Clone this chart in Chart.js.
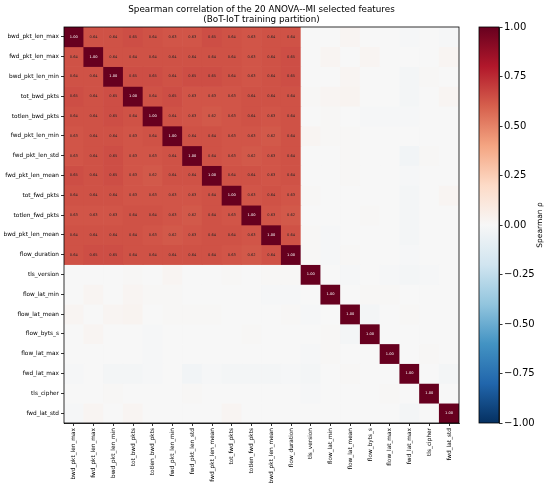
<!DOCTYPE html>
<html>
<head>
<meta charset="utf-8">
<script src="https://cdn.jsdelivr.net/npm/chart.js@4.4.0/dist/chart.umd.min.js"></script>
<style>
  html, body { margin: 0; padding: 0; background: #fff; }
  #wrap { position: relative; width: 550px; height: 489px; }
  #main { position: absolute; left: 0; top: 0; width: 522px; height: 489px; }
  #cbar { position: absolute; left: 440px; top: 0; width: 110px; height: 489px; }
</style>
</head>
<body>
<div id="wrap">
  <div id="main"><canvas id="heat"></canvas></div>
  <div id="cbar"><canvas id="bar"></canvas></div>
</div>
<script>
const features = [
  'bwd_pkt_len_max', 'fwd_pkt_len_max', 'bwd_pkt_len_min', 'tot_bwd_pkts', 'totlen_bwd_pkts',
  'fwd_pkt_len_min', 'fwd_pkt_len_std', 'fwd_pkt_len_mean', 'tot_fwd_pkts', 'totlen_fwd_pkts',
  'bwd_pkt_len_mean', 'flow_duration', 'tls_version', 'flow_lat_min', 'flow_lat_mean',
  'flow_byts_s', 'flow_lat_max', 'fwd_lat_max', 'tls_cipher', 'fwd_lat_std'
];

// Spearman rho, one row per feature (same order as features)
const corr = [
  [1.00, 0.64, 0.64, 0.65, 0.64, 0.63, 0.63, 0.65, 0.64, 0.63, 0.64, 0.64,  0.00, 0.00, 0.02, 0.00, 0.00, -0.01, 0.00, -0.01],
  [0.64, 1.00, 0.64, 0.64, 0.64, 0.64, 0.64, 0.64, 0.64, 0.63, 0.64, 0.65,  0.00, 0.02, 0.00, 0.02, 0.00, 0.00, 0.00, 0.02],
  [0.64, 0.64, 1.00, 0.65, 0.65, 0.64, 0.65, 0.65, 0.64, 0.63, 0.64, 0.65,  0.00, 0.00, 0.02, 0.00, 0.00, -0.02, 0.01, 0.00],
  [0.65, 0.64, 0.65, 1.00, 0.64, 0.65, 0.63, 0.63, 0.63, 0.64, 0.64, 0.64,  0.01, 0.02, 0.03, 0.00, 0.00, -0.02, 0.00, 0.02],
  [0.64, 0.64, 0.65, 0.64, 1.00, 0.64, 0.63, 0.62, 0.63, 0.64, 0.63, 0.64,  0.00, 0.01, 0.00, -0.01, -0.01, -0.01, 0.00, 0.00],
  [0.63, 0.64, 0.64, 0.63, 0.64, 1.00, 0.64, 0.64, 0.63, 0.63, 0.62, 0.64,  0.02, 0.01, 0.01, 0.00, 0.00, 0.00, 0.00, 0.00],
  [0.63, 0.64, 0.65, 0.63, 0.63, 0.64, 1.00, 0.64, 0.63, 0.62, 0.63, 0.64,  0.00, 0.00, 0.01, 0.00, 0.00, -0.03, 0.01, 0.00],
  [0.65, 0.64, 0.65, 0.63, 0.62, 0.64, 0.64, 1.00, 0.64, 0.64, 0.63, 0.64,  0.00, 0.00, 0.01, 0.00, 0.00, -0.01, 0.00, 0.00],
  [0.64, 0.64, 0.64, 0.63, 0.63, 0.63, 0.63, 0.64, 1.00, 0.63, 0.64, 0.63,  0.01, 0.00, 0.00, 0.00, 0.00, -0.02, 0.00, 0.02],
  [0.63, 0.63, 0.63, 0.64, 0.64, 0.63, 0.62, 0.64, 0.63, 1.00, 0.63, 0.62,  0.00, 0.00, 0.00, 0.01, 0.00, -0.02, 0.00, 0.00],
  [0.64, 0.64, 0.64, 0.64, 0.63, 0.62, 0.63, 0.64, 0.64, 0.63, 1.00, 0.64,  0.01, -0.01, 0.00, 0.00, 0.00, -0.02, 0.00, 0.00],
  [0.64, 0.65, 0.65, 0.64, 0.64, 0.64, 0.64, 0.64, 0.63, 0.62, 0.64, 1.00,  0.01, -0.01, 0.01, 0.00, 0.00, -0.01, 0.00, 0.00],
  [0.00, 0.00, 0.00, 0.01, 0.00, 0.02, 0.00, 0.00, 0.01, 0.00, 0.01, 0.01,  1.00, 0.00, -0.01, 0.00, -0.01, -0.02, -0.01, 0.00],
  [0.00, 0.02, 0.00, 0.02, 0.01, 0.01, 0.00, 0.00, 0.00, 0.00, -0.01, -0.01, 0.00, 1.00, 0.00, 0.01, 0.01, 0.00, 0.00, 0.00],
  [0.02, 0.00, 0.02, 0.03, 0.00, 0.01, 0.01, 0.01, 0.00, 0.00, 0.00, 0.01,  -0.01, 0.00, 1.00, -0.02, 0.00, 0.01, 0.00, 0.00],
  [0.00, 0.02, 0.00, 0.00, -0.01, 0.00, 0.00, 0.00, 0.00, 0.01, 0.00, 0.00, 0.00, 0.01, -0.02, 1.00, 0.00, 0.00, 0.00, 0.00],
  [0.00, 0.00, 0.00, 0.00, -0.01, 0.00, 0.00, 0.00, 0.00, 0.00, 0.00, 0.00, -0.01, 0.01, 0.00, 0.00, 1.00, 0.00, 0.01, 0.00],
  [-0.01, 0.00, -0.02, -0.02, -0.01, 0.00, -0.03, -0.01, -0.02, -0.02, -0.02, -0.01, -0.02, 0.00, 0.01, 0.00, 0.00, 1.00, 0.00, -0.02],
  [0.00, 0.00, 0.01, 0.00, 0.00, 0.00, 0.01, 0.00, 0.00, 0.00, 0.00, 0.00, -0.01, 0.00, 0.00, 0.00, 0.01, 0.00, 1.00, 0.00],
  [-0.01, 0.02, 0.00, 0.02, 0.00, 0.00, 0.00, 0.00, 0.02, 0.00, 0.00, 0.00, 0.00, 0.00, 0.00, 0.00, 0.00, -0.02, 0.00, 1.00]
];

const cbarTicks = [-1, -0.75, -0.5, -0.25, 0, 0.25, 0.5, 0.75, 1];

// RdBu_r colormap
const rdbuStops = ['#053061', '#2166ac', '#4393c3', '#92c5de', '#d1e5f0', '#f7f7f7',
                   '#fddbc7', '#f4a582', '#d6604d', '#b2182b', '#67001f'];
const hex = h => [1, 3, 5].map(i => parseInt(h.substr(i, 2), 16));
function rdbu(v) {
  const t = Math.max(0, Math.min(1, (v + 1) / 2)) * 10;
  const i = Math.min(9, Math.floor(t));
  const f = t - i;
  const a = hex(rdbuStops[i]), b = hex(rdbuStops[i + 1]);
  const c = a.map((x, k) => Math.round(x + (b[k] - x) * f));
  return `rgb(${c[0]},${c[1]},${c[2]})`;
}

const FONT = '"DejaVu Sans", sans-serif';

// one floating-bar dataset per row, all overlapping on the category axis
const datasets = features.map((name, r) => ({
  label: name,
  data: corr[r].map(() => [r, r + 1]),
  backgroundColor: corr[r].map(v => rdbu(v)),
  borderWidth: 0,
  barPercentage: 1,
  categoryPercentage: 1,
  grouped: false
}));

const heatExtras = {
  id: 'heatExtras',
  afterDatasetsDraw(chart) {
    const { ctx, chartArea: a, scales: { x, y } } = chart;
    ctx.save();
    ctx.textAlign = 'center';
    ctx.textBaseline = 'middle';
    ctx.font = `3.6px ${FONT}`;
    corr.forEach((row, r) => row.forEach((v, c) => {
      if (Math.abs(v) < 0.5) return;
      ctx.fillStyle = v > 0.9 ? '#fff' : '#262626';
      ctx.fillText(v.toFixed(2), x.getPixelForValue(c), y.getPixelForValue(r + 0.5));
    }));
    // frame
    ctx.strokeStyle = '#000';
    ctx.lineWidth = 0.8;
    ctx.strokeRect(a.left, a.top, a.right - a.left, a.bottom - a.top);
    // title
    ctx.fillStyle = '#000';
    ctx.font = `8.8px ${FONT}`;
    const cx = (a.left + a.right) / 2;
    ctx.fillText('Spearman correlation of the 20 ANOVA--MI selected features', cx, 10);
    ctx.fillText('(BoT-IoT training partition)', cx, 20);
    ctx.restore();
  }
};

new Chart(document.getElementById('heat'), {
  type: 'bar',
  data: { labels: features, datasets },
  options: {
    responsive: true,
    maintainAspectRatio: false,
    animation: false,
    layout: { padding: { top: 27, right: 63, left: 0, bottom: 0 } },
    plugins: { legend: { display: false }, title: { display: false }, tooltip: { enabled: false } },
    scales: {
      x: {
        type: 'category',
        afterFit: s => { s.height = 66; },
        grid: { display: true, offset: false, drawOnChartArea: false, drawTicks: true, tickLength: 3, color: '#000', lineWidth: 0.8 },
        border: { display: true, color: '#000', width: 0.8 },
        ticks: { autoSkip: false, minRotation: 90, maxRotation: 90, padding: 2, color: '#000', font: { family: FONT, size: 5.8 } }
      },
      y: {
        type: 'linear',
        min: 0,
        max: 20,
        reverse: true,
        afterFit: s => { s.width = 64; },
        afterBuildTicks: s => { s.ticks = features.map((_, i) => ({ value: i + 0.5 })); },
        grid: { display: true, drawOnChartArea: false, drawTicks: true, tickLength: 3, color: '#000', lineWidth: 0.8 },
        border: { display: true, color: '#000', width: 0.8 },
        ticks: {
          autoSkip: false, padding: 2, color: '#000', font: { family: FONT, size: 5.8 },
          callback: v => features[Math.round(v - 0.5)]
        }
      }
    }
  },
  plugins: [heatExtras]
});

// colorbar
const cbarExtras = {
  id: 'cbarExtras',
  afterDatasetsDraw(chart) {
    const { ctx, chartArea: a } = chart;
    ctx.save();
    ctx.strokeStyle = '#000';
    ctx.lineWidth = 0.8;
    ctx.strokeRect(a.left, a.top, a.right - a.left, a.bottom - a.top);
    ctx.translate(100, (a.top + a.bottom) / 2);
    ctx.rotate(-Math.PI / 2);
    ctx.fillStyle = '#000';
    ctx.textAlign = 'center';
    ctx.textBaseline = 'middle';
    ctx.font = `7.5px ${FONT}`;
    ctx.fillText('Spearman ρ', 0, 0);
    ctx.restore();
  }
};

new Chart(document.getElementById('bar'), {
  type: 'bar',
  data: {
    labels: [''],
    datasets: [{
      data: [[-1, 1]],
      borderWidth: 0,
      barPercentage: 1,
      categoryPercentage: 1,
      backgroundColor: ctx => {
        const area = ctx.chart.chartArea;
        if (!area) return '#fff';
        const g = ctx.chart.ctx.createLinearGradient(0, area.bottom, 0, area.top);
        rdbuStops.forEach((c, i) => g.addColorStop(i / 10, c));
        return g;
      }
    }]
  },
  options: {
    responsive: true,
    maintainAspectRatio: false,
    animation: false,
    layout: { padding: { top: 27, left: 39, right: 0, bottom: 66 } },
    plugins: { legend: { display: false }, tooltip: { enabled: false } },
    scales: {
      x: { display: false },
      y: {
        position: 'right',
        min: -1,
        max: 1,
        afterFit: s => { s.width = 51; },
        afterBuildTicks: s => { s.ticks = cbarTicks.map(v => ({ value: v })); },
        grid: { display: true, drawOnChartArea: false, drawTicks: true, tickLength: 3.5, color: '#000', lineWidth: 0.8 },
        border: { display: true, color: '#000', width: 0.8 },
        ticks: {
          padding: 1.5, color: '#000', font: { family: FONT, size: 10 },
          callback: v => v.toFixed(2).replace('-', '\u2212')
        }
      }
    }
  },
  plugins: [cbarExtras]
});
</script>
</body>
</html>
